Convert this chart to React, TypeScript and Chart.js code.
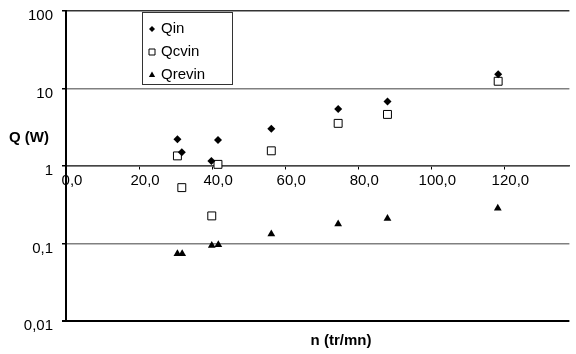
import React, { useEffect, useRef } from "react";
import { Chart, registerables } from "chart.js";

Chart.register(...registerables);

// ---- data ----
const seriesNames = ["Qin", "Qcvin", "Qrevin"];
const nQin = [30.5, 31.7, 39.8, 41.6, 56.2, 74.5, 88.0, 118.3];
const qinValues = [2.22, 1.5, 1.16, 2.16, 3.02, 5.42, 6.8, 15.3];
const nQcvin = [30.5, 31.7, 39.9, 41.6, 56.2, 74.5, 88.0, 118.3];
const qcvinValues = [1.35, 0.526, 0.227, 1.05, 1.57, 3.55, 4.63, 12.4];
const nQrevin = [30.5, 31.8, 39.9, 41.7, 56.2, 74.5, 88.0, 118.2];
const qrevinValues = [0.0737, 0.0737, 0.094, 0.096, 0.133, 0.179, 0.21, 0.285];

const xTicks = [0, 20, 40, 60, 80, 100, 120];
const xTickLabels = ["0,0", "20,0", "40,0", "60,0", "80,0", "100,0", "120,0"];
const yTicks = [0.01, 0.1, 1, 10, 100];
const yTickLabels = ["0,01", "0,1", "1", "10", "100"];
const xTitle = "n (tr/mn)";
const yTitle = "Q (W)";

const FONT = '"Liberation Sans", Arial, sans-serif';

function drawMarker(ctx: CanvasRenderingContext2D, style: string, x: number, y: number, r: number) {
  ctx.save();
  ctx.beginPath();
  if (style === "rectRot") {
    ctx.moveTo(x, y - r);
    ctx.lineTo(x + r, y);
    ctx.lineTo(x, y + r);
    ctx.lineTo(x - r, y);
    ctx.closePath();
    ctx.fillStyle = "#000";
    ctx.fill();
  } else if (style === "rect") {
    ctx.rect(x - r, y - r, 2 * r, 2 * r);
    ctx.fillStyle = "#fff";
    ctx.fill();
    ctx.strokeStyle = "#000";
    ctx.lineWidth = 1;
    ctx.stroke();
  } else {
    ctx.moveTo(x, y - r);
    ctx.lineTo(x + r * 0.9, y + r * 0.6);
    ctx.lineTo(x - r * 0.9, y + r * 0.6);
    ctx.closePath();
    ctx.fillStyle = "#000";
    ctx.fill();
  }
  ctx.restore();
}

const decorPlugin = {
  id: "decor",
  afterDraw(chart: any) {
    const ctx: CanvasRenderingContext2D = chart.ctx;
    ctx.save();
    // axis titles
    ctx.fillStyle = "#000";
    ctx.font = "bold 15px " + FONT;
    ctx.textBaseline = "middle";
    ctx.textAlign = "left";
    ctx.fillText(yTitle, 9, 138);
    ctx.textAlign = "center";
    ctx.fillText(xTitle, 341, 341);
    // legend
    const lx = 142.5, ly = 12.5, lw = 90, lh = 72;
    ctx.fillStyle = "#fff";
    ctx.fillRect(lx, ly, lw, lh);
    ctx.strokeStyle = "#333";
    ctx.lineWidth = 1;
    ctx.strokeRect(lx, ly, lw, lh);
    const styles = ["rectRot", "rect", "triangle"];
    const sizes = [3, 3, 3.5];
    ctx.font = "15px " + FONT;
    ctx.textAlign = "left";
    ctx.textBaseline = "middle";
    chart.data.datasets.forEach((ds: any, i: number) => {
      const yy = 29 + i * 23;
      drawMarker(ctx, styles[i], 152, yy, sizes[i]);
      ctx.fillStyle = "#000";
      ctx.fillText(ds.label, 161, yy);
    });
    ctx.restore();
  },
};

export default function App() {
  const canvasRef = useRef<HTMLCanvasElement | null>(null);

  useEffect(() => {
    document.body.style.margin = "0";
    const canvas = canvasRef.current;
    if (!canvas) return;
    const toPts = (xs: number[], ys: number[]) => xs.map((x, i) => ({ x, y: ys[i] }));
    const chart = new Chart(canvas, {
      type: "scatter",
      data: {
        datasets: [
          {
            label: seriesNames[0],
            data: toPts(nQin, qinValues),
            pointStyle: "rectRot",
            pointRadius: 4,
            backgroundColor: "#000",
            borderColor: "#000",
            borderWidth: 0,
          },
          {
            label: seriesNames[1],
            data: toPts(nQcvin, qcvinValues),
            pointStyle: "rect",
            pointRadius: 5.6,
            backgroundColor: "#fff",
            borderColor: "#000",
            borderWidth: 1,
          },
          {
            label: seriesNames[2],
            data: toPts(nQrevin, qrevinValues),
            pointStyle: "triangle",
            pointRadius: 4.5,
            backgroundColor: "#000",
            borderColor: "#000",
            borderWidth: 0,
          },
        ],
      },
      options: {
        responsive: false,
        animation: false,
        devicePixelRatio: 1,
        layout: { padding: { top: 11, right: 0, bottom: 33, left: 0 } },
        plugins: {
          legend: { display: false },
          tooltip: { enabled: false },
          title: { display: false },
        },
        scales: {
          x: {
            type: "linear",
            position: { y: 1 } as any,
            min: 0,
            max: 137.8,
            afterBuildTicks: (scale: any) => {
              scale.ticks = xTicks.map((v) => ({ value: v }));
            },
            afterFit: (scale: any) => {
              scale.paddingLeft = 0;
              scale.paddingRight = 0;
            },
            ticks: {
              autoSkip: false,
              maxRotation: 0,
              color: "#000",
              font: { family: FONT, size: 15 },
              padding: 3,
              labelOffset: 6,
              callback: (v: any) => {
                const i = xTicks.findIndex((t) => Math.abs(t - Number(v)) < 1e-6);
                return i >= 0 ? xTickLabels[i] : "";
              },
            },
            grid: {
              drawOnChartArea: false,
              drawTicks: true,
              tickLength: 3,
              tickColor: "#000",
              tickWidth: 1,
            },
            border: { display: true, color: "#444", width: 1.5 },
          },
          y: {
            type: "logarithmic",
            position: "left",
            min: 0.01,
            max: 100,
            afterFit: (scale: any) => {
              scale.width = 66;
              scale.paddingTop = 0;
              scale.paddingBottom = 0;
            },
            afterBuildTicks: (scale: any) => {
              scale.ticks = yTicks.map((v) => ({ value: v, major: true }));
            },
            ticks: {
              autoSkip: false,
              color: "#000",
              font: { family: FONT, size: 15 },
              padding: 9,
              labelOffset: 5,
              callback: (v: any) => {
                const i = yTicks.findIndex((t) => Math.abs(Math.log10(t) - Math.log10(Number(v))) < 1e-6);
                return i >= 0 ? yTickLabels[i] : "";
              },
            },
            grid: {
              drawTicks: true,
              tickLength: 4,
              tickColor: "#000",
              color: (c: any) => {
                const v = c.tick ? c.tick.value : 1;
                if (Math.abs(v - 0.01) < 1e-9) return "#000";
                if (Math.abs(v - 100) < 1e-6) return "#333";
                return "#808080";
              },
              lineWidth: (c: any) => {
                const v = c.tick ? c.tick.value : 1;
                if (Math.abs(v - 0.01) < 1e-9) return 2;
                return 1.5;
              },
            },
            border: { display: true, color: "#000", width: 2 },
          },
        },
      },
      plugins: [decorPlugin],
    });
    return () => chart.destroy();
  }, []);

  return (
    <div style={{ width: 576, height: 354, background: "#fff" }}>
      <canvas ref={canvasRef} width={576} height={354} />
    </div>
  );
}
